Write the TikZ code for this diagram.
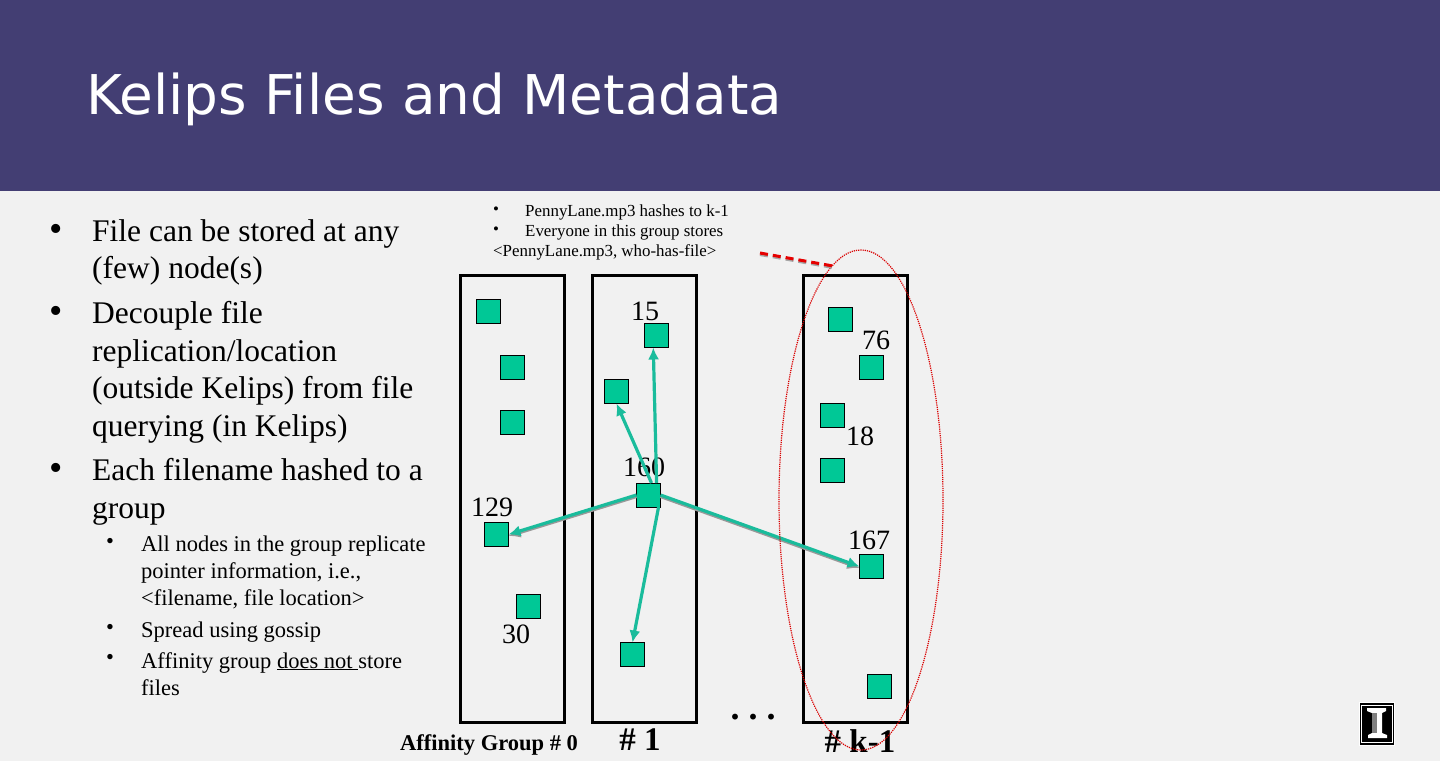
\documentclass[tikz,border=0pt]{standalone}
\usepackage{fontspec}
\usepackage{xcolor}
\setmainfont{Liberation Serif}
\newfontfamily\titlefont{DejaVu Sans}
\usepackage{tikz}
\usetikzlibrary{arrows.meta,positioning,shapes.geometric}
\definecolor{HeaderBlue}{RGB}{67,62,115}
\definecolor{PageGray}{RGB}{241,241,241}
\definecolor{PeerGreen}{RGB}{0,200,150}
\definecolor{ArrowTeal}{RGB}{26,188,156}

\begin{document}
\begin{tikzpicture}[
x=1pt,y=-1pt,
node distance=28pt and 28pt,
group/.style={
draw,
line width=3.4pt,
minimum width=104pt,
minimum height=447pt,
outer sep=0pt
},
peer/.style={
draw,
line width=1pt,
minimum size=24pt,
inner sep=0pt,
outer sep=0pt,
fill=PeerGreen
},
num/.style={font=\fontsize{28}{28}\selectfont,inner sep=0pt},
grouplabel/.style={font=\fontsize{33}{33}\selectfont\bfseries,anchor=base,inner sep=0pt},
bullet/.style={font=\fontsize{31.5}{37.7}\selectfont,anchor=north west,align=left,inner sep=0pt},
bigdot/.style={font=\fontsize{38}{38}\selectfont,anchor=base west,inner sep=0pt},
subbullet/.style={font=\fontsize{22.5}{27}\selectfont,anchor=north west,align=left,inner sep=0pt},
topnote/.style={font=\fontsize{16.9}{20}\selectfont,anchor=base west,inner sep=0pt},
arrow/.style={-{Latex[length=12pt,width=11pt]},line width=3.2pt,draw=ArrowTeal},
arrowshade/.style={-{Latex[length=12pt,width=11pt]},line width=3.2pt,draw=gray!80,transform canvas={yshift=-1.5pt}}
]
% page and header
\fill[PageGray] (0,0) rectangle (1440,761);
\fill[HeaderBlue] (0,0) rectangle (1440,191);
\node[anchor=base west,inner sep=0pt,text=white,font=\fontsize{54.8}{54.8}\selectfont\titlefont] (title) at (86,114) {Kelips Files and Metadata};

% left text
\node[bigdot] (b1dot) at (49,241) {•};
\node[bullet] (b1) at (92,219) {File can be stored at any\\(few) node(s)};
\node[bigdot] (b2dot) at (49,323) {•};
\node[bullet] (b2) at (92,301) {Decouple file\\replication/location\\(outside Kelips) from file\\querying (in Kelips)};
\node[bigdot] (b3dot) at (49,480) {•};
\node[bullet] (b3) at (92,458) {Each filename hashed to a\\group};
\node[subbullet] (s1dot) at (106,538) {•};
\node[subbullet] (s1) at (141,536) {All nodes in the group replicate\\pointer information, i.e.,\\<filename, file location>};
\node[subbullet] (s2dot) at (106,624) {•};
\node[subbullet] (s2) at (141,622) {Spread using gossip};
\node[subbullet] (s3dot) at (106,654) {•};
\node[subbullet] (s3) at (141,652) {Affinity group \underline{does not\ }store\\files};

% note over the groups
\node[topnote] (n1dot) at (493,214) {•};
\node[topnote] (n1) at (525,216) {PennyLane.mp3 hashes to k-1};
\node[topnote] (n2dot) at (493,234) {•};
\node[topnote] (n2) at (525,236.5) {Everyone in this group stores};
\node[topnote] (n3) at (493,256.5) {<PennyLane.mp3, who-has-file>};

% groups
\node[group] (group0) at (512.5,498.7) {};
\node[group,right=28pt of group0] (group1) {};
\node[group,right=107pt of group1] (groupk) {};

% peers
\node[peer] (a1) at (488.5,311.5) {};
\node[peer] (a2) at (512.5,367.5) {};
\node[peer] (a3) at (512.5,422.5) {};
\node[peer] (p129) at (496.5,534.5) {};
\node[peer] (p30) at (528.5,606.5) {};
\node[peer] (p15) at (656.5,335.5) {};
\node[peer] (b1peer) at (616.5,391.5) {};
\node[peer] (p160) at (648.5,495) {};
\node[peer] (b4peer) at (632.5,654.5) {};
\node[peer] (c1) at (840.5,319.5) {};
\node[peer] (p76) at (871.5,367.5) {};
\node[peer] (p18) at (832,415) {};
\node[peer] (c4) at (832,470.5) {};
\node[peer] (p167) at (871.5,566.5) {};
\node[peer] (c6) at (879.5,686.5) {};

\node[num] (l15) at (645,311) {15};
\node[num] (l76) at (876,340) {76};
\node[num] (l18) at (860,436) {18};
\node[num] (l160) at (644,467) {160};
\node[num] (l129) at (492,507) {129};
\node[num] (l167) at (869,540) {167};
\node[num] (l30) at (516,634) {30};

% replication arrows
\draw[arrowshade] (p160.west) -- (p129.east);
\draw[arrowshade] (p160.east) -- (p167.west);
\draw[arrow] (p160.56) -- (p15.-105);
\draw[arrow] (p160.76) -- (b1peer.south);
\draw[arrow] (p160.-50) -- (b4peer.north);
\draw[arrow] (p160.west) -- (p129.east);
\draw[arrow] (p160.east) -- (p167.west);

% group labels
\node[anchor=base west,inner sep=0pt,font=\fontsize{22.5}{22.5}\selectfont\bfseries] (l0) at (400,750) {Affinity Group \# 0};
\node[grouplabel] (l1) at (640,750) {\# 1};
\node[grouplabel] (lk) at (860,752) {\# k-1};
\node[anchor=base,inner sep=0pt,font=\fontsize{36}{36}\selectfont\bfseries] (ldots) at (753,719) {.\hspace{9pt}.\hspace{9pt}.};

% ellipse and pointer
\node[ellipse,draw=red!85!black,densely dotted,line width=1.2pt,minimum width=164pt,minimum height=500pt,inner sep=0pt,outer sep=0pt] (kcircle) at (861,500) {};
\coordinate (pointer) at (760,253);
\draw[gray!70,line width=3pt,dash pattern=on 8pt off 5pt,transform canvas={yshift=-1.5pt}] (pointer) -- (kcircle.97);
\draw[red!90!black,line width=3pt,dash pattern=on 8pt off 5pt] (pointer) -- (kcircle.97);

% logo
\node[draw=white,line width=1pt,fill=black,minimum width=35pt,minimum height=43pt,inner sep=0pt,outer sep=0pt] (logo) at (1377,723.5) {};
\draw[white,line width=0.7pt] (1361.5,705) rectangle (1392.5,742);
\fill[white] (1368,738) -- (1387,738) -- (1387,735) -- (1382,733) -- (1382,713) -- (1386,711) -- (1386,708) -- (1367,708) -- (1367,711) -- (1372,713) -- (1372,733) -- (1368,735) -- cycle;
\fill[gray] (1372,713) rectangle (1377,733);
\end{tikzpicture}
\end{document}
